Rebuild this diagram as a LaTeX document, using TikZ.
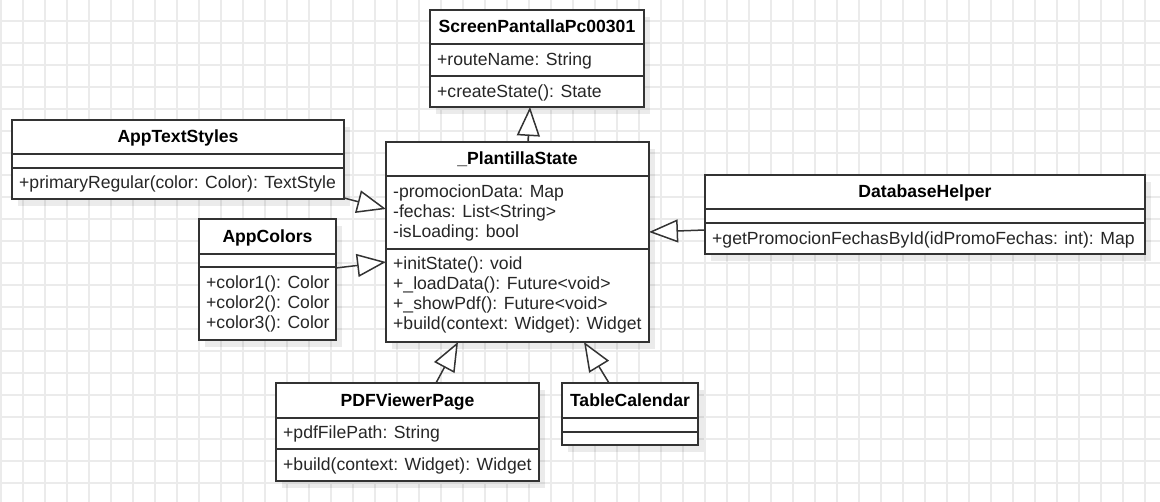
\documentclass[tikz,border=0pt]{standalone}
\usepackage{fontspec}
\setmainfont{Liberation Sans}
\usetikzlibrary{arrows.meta,shadows}
\definecolor{gridc}{HTML}{EBEBEB}
\definecolor{linec}{HTML}{333333}
\definecolor{txtc}{HTML}{262626}
\begin{document}
\begin{tikzpicture}[x=1pt,y=-1pt,
  cls/.style={draw=linec, line width=1.6pt, fill=white, inner sep=0pt, outer sep=0pt, anchor=north west,
    drop shadow={shadow xshift=6pt, shadow yshift=-7pt, fill=black, opacity=0.08}},
  txt/.style={inner sep=0pt, anchor=base west, text=txtc, font=\fontsize{17.6}{20}\selectfont},
  hdr/.style={inner sep=0pt, anchor=base, text=black, font=\fontsize{17.6}{20}\selectfont\bfseries},
  div/.style={draw=linec, line width=1.6pt},
  inh/.style={draw=linec, line width=1.5pt, -{Triangle[open, fill=white, length=29pt, width=23pt, line width=1.5pt]}}
]
\useasboundingbox (0,0) rectangle (1160,502);
\fill[white] (0,0) rectangle (1160,502);
% grid
\foreach \k in {0,...,52} { \draw[gridc, line width=1.4pt] ({1+22*\k},0) -- ({1+22*\k},502); }
\foreach \k in {0,...,21} { \draw[gridc, line width=1.4pt] (0,{21+22*\k}) -- (1160,{21+22*\k}); }

% ScreenPantallaPc00301
\node[cls, minimum width=214pt, minimum height=97pt] (sp) at (430,10) {};
\draw[div] ([yshift=-34pt]sp.north west) -- ([yshift=-34pt]sp.north east);
\draw[div] ([yshift=-66pt]sp.north west) -- ([yshift=-66pt]sp.north east);
\node[hdr] (sp-h) at (537,33) {ScreenPantallaPc00301};
\node[txt] (sp-a1) at (437,66) {+routeName: String};
\node[txt] (sp-m1) at (437,97.5) {+createState(): State};

% _PlantillaState
\node[cls, minimum width=263pt, minimum height=200pt] (ps) at (386,142) {};
\draw[div] ([yshift=-34pt]ps.north west) -- ([yshift=-34pt]ps.north east);
\draw[div] ([yshift=-107pt]ps.north west) -- ([yshift=-107pt]ps.north east);
\node[hdr] (ps-h) at (517.5,165) {\_PlantillaState};
\node[txt] (ps-a1) at (393,198) {-promocionData: Map};
\node[txt] (ps-a2) at (393,218) {-fechas: List<String>};
\node[txt] (ps-a3) at (393,238) {-isLoading: bool};
\node[txt] (ps-m1) at (393,270) {+initState(): void};
\node[txt] (ps-m2) at (393,290) {+\_loadData(): Future<void>};
\node[txt] (ps-m3) at (393,310) {+\_showPdf(): Future<void>};
\node[txt] (ps-m4) at (393,330) {+build(context: Widget): Widget};

% AppTextStyles
\node[cls, minimum width=332pt, minimum height=79pt] (ats) at (12,120) {};
\draw[div] ([yshift=-34pt]ats.north west) -- ([yshift=-34pt]ats.north east);
\draw[div] ([yshift=-48pt]ats.north west) -- ([yshift=-48pt]ats.north east);
\node[hdr] (ats-h) at (178,143) {AppTextStyles};
\node[txt] (ats-m1) at (19,189) {+primaryRegular(color: Color): TextStyle};

% AppColors
\node[cls, minimum width=137pt, minimum height=121pt] (ac) at (199,219) {};
\draw[div] ([yshift=-35pt]ac.north west) -- ([yshift=-35pt]ac.north east);
\draw[div] ([yshift=-48pt]ac.north west) -- ([yshift=-48pt]ac.north east);
\node[hdr] (ac-h) at (267.5,243) {AppColors};
\node[txt] (ac-m1) at (206,289) {+color1(): Color};
\node[txt] (ac-m2) at (206,309) {+color2(): Color};
\node[txt] (ac-m3) at (206,329) {+color3(): Color};

% DatabaseHelper
\node[cls, minimum width=440pt, minimum height=79pt] (db) at (705,175) {};
\draw[div] ([yshift=-34pt]db.north west) -- ([yshift=-34pt]db.north east);
\draw[div] ([yshift=-48pt]db.north west) -- ([yshift=-48pt]db.north east);
\node[hdr] (db-h) at (925,198) {DatabaseHelper};
\node[txt] (db-m1) at (712,245) {+getPromocionFechasById(idPromoFechas: int): Map};

% PDFViewerPage
\node[cls, minimum width=263pt, minimum height=98pt] (pv) at (276,383) {};
\draw[div] ([yshift=-35pt]pv.north west) -- ([yshift=-35pt]pv.north east);
\draw[div] ([yshift=-66pt]pv.north west) -- ([yshift=-66pt]pv.north east);
\node[hdr] (pv-h) at (407.5,407) {PDFViewerPage};
\node[txt] (pv-a1) at (283,439) {+pdfFilePath: String};
\node[txt] (pv-m1) at (283,471) {+build(context: Widget): Widget};

% TableCalendar
\node[cls, minimum width=136pt, minimum height=62pt] (tc) at (562,383) {};
\draw[div] ([yshift=-35pt]tc.north west) -- ([yshift=-35pt]tc.north east);
\draw[div] ([yshift=-49pt]tc.north west) -- ([yshift=-49pt]tc.north east);
\node[hdr] (tc-h) at (630,407) {TableCalendar};

% inheritance connectors
\draw[inh] ([xshift=142pt]ps.north west) -- ([xshift=100pt]sp.south west);
\draw[inh] ([yshift=1pt]ats.south east) -- ([yshift=-67pt]ps.north west);
\draw[inh] ([yshift=-49pt]ac.north east) -- ([yshift=-120pt]ps.north west);
\draw[inh] ([yshift=-55pt]db.north west) -- ([yshift=-90pt]ps.north east);
\draw[inh] ([xshift=160pt]pv.north west) -- ([xshift=72pt]ps.south west);
\draw[inh] ([xshift=47pt]tc.north west) -- ([xshift=198pt]ps.south west);
\end{tikzpicture}
\end{document}
